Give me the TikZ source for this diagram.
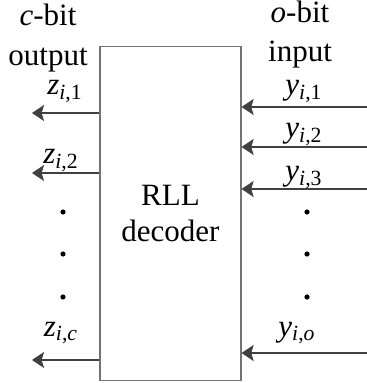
\documentclass[tikz,border=0pt]{standalone}
\usepackage{fontspec}
\setmainfont{Liberation Serif}
\usetikzlibrary{arrows.meta}

\tikzset{
  txt/.style={font=\fontsize{15.5}{18}\selectfont, inner sep=0pt},
  lbl/.style={txt, anchor=base},
  sig/.style={draw=black!75, line width=1pt, -{Stealth[length=6pt,width=8pt,inset=1.2pt]}},
  dot/.style={circle, fill=black, inner sep=0pt, minimum size=2.6pt},
}

\begin{document}
\begin{tikzpicture}[x=0.5pt,y=-0.5pt]
  \useasboundingbox (0,0) rectangle (367,383);

  % Decoder box
  \node[draw=black!55, line width=0.6pt, minimum width=70.5pt, minimum height=167pt, txt, align=center] (dec) at (170.5,213.75) {RLL\\decoder};

  % Headers
  \node[lbl] (outhdr1) at (48,26) {\textit{c}-bit};
  \node[lbl] (outhdr2) at (48,66) {output};
  \node[lbl] (inhdr1) at (300,23) {\textit{o}-bit};
  \node[lbl] (inhdr2) at (300,62) {input};

  % Output arrows
  \foreach \k/\y/\ly/\lx/\sub in {1/113/95/65/1, 2/173/164/61/2, c/360/336/61/\textit{c}} {
    \coordinate (z\k) at (32,\y);
    \draw[sig] (dec.west |- z\k) -- (z\k);
    \node[lbl] (zlbl\k) at (\lx,\ly) {\textit{z}\textsubscript{\textit{i},\sub}};
  }

  % Input arrows
  \foreach \k/\y/\ly/\lx/\sub in {1/107/95/304/1, 2/147/138/304/2, 3/189/181/304/3, o/353/336/297/\textit{o}} {
    \coordinate (y\k) at (367,\y);
    \draw[sig] (y\k) -- (y\k -| dec.east);
    \node[lbl] (ylbl\k) at (\lx,\ly) {\textit{y}\textsubscript{\textit{i},\sub}};
  }

  % Dots
  \foreach \i/\y in {1/212,2/254,3/297} {
    \node[dot] (ldot\i) at (63,\y) {};
    \node[dot] (rdot\i) at (307,\y) {};
  }

\end{tikzpicture}
\end{document}
